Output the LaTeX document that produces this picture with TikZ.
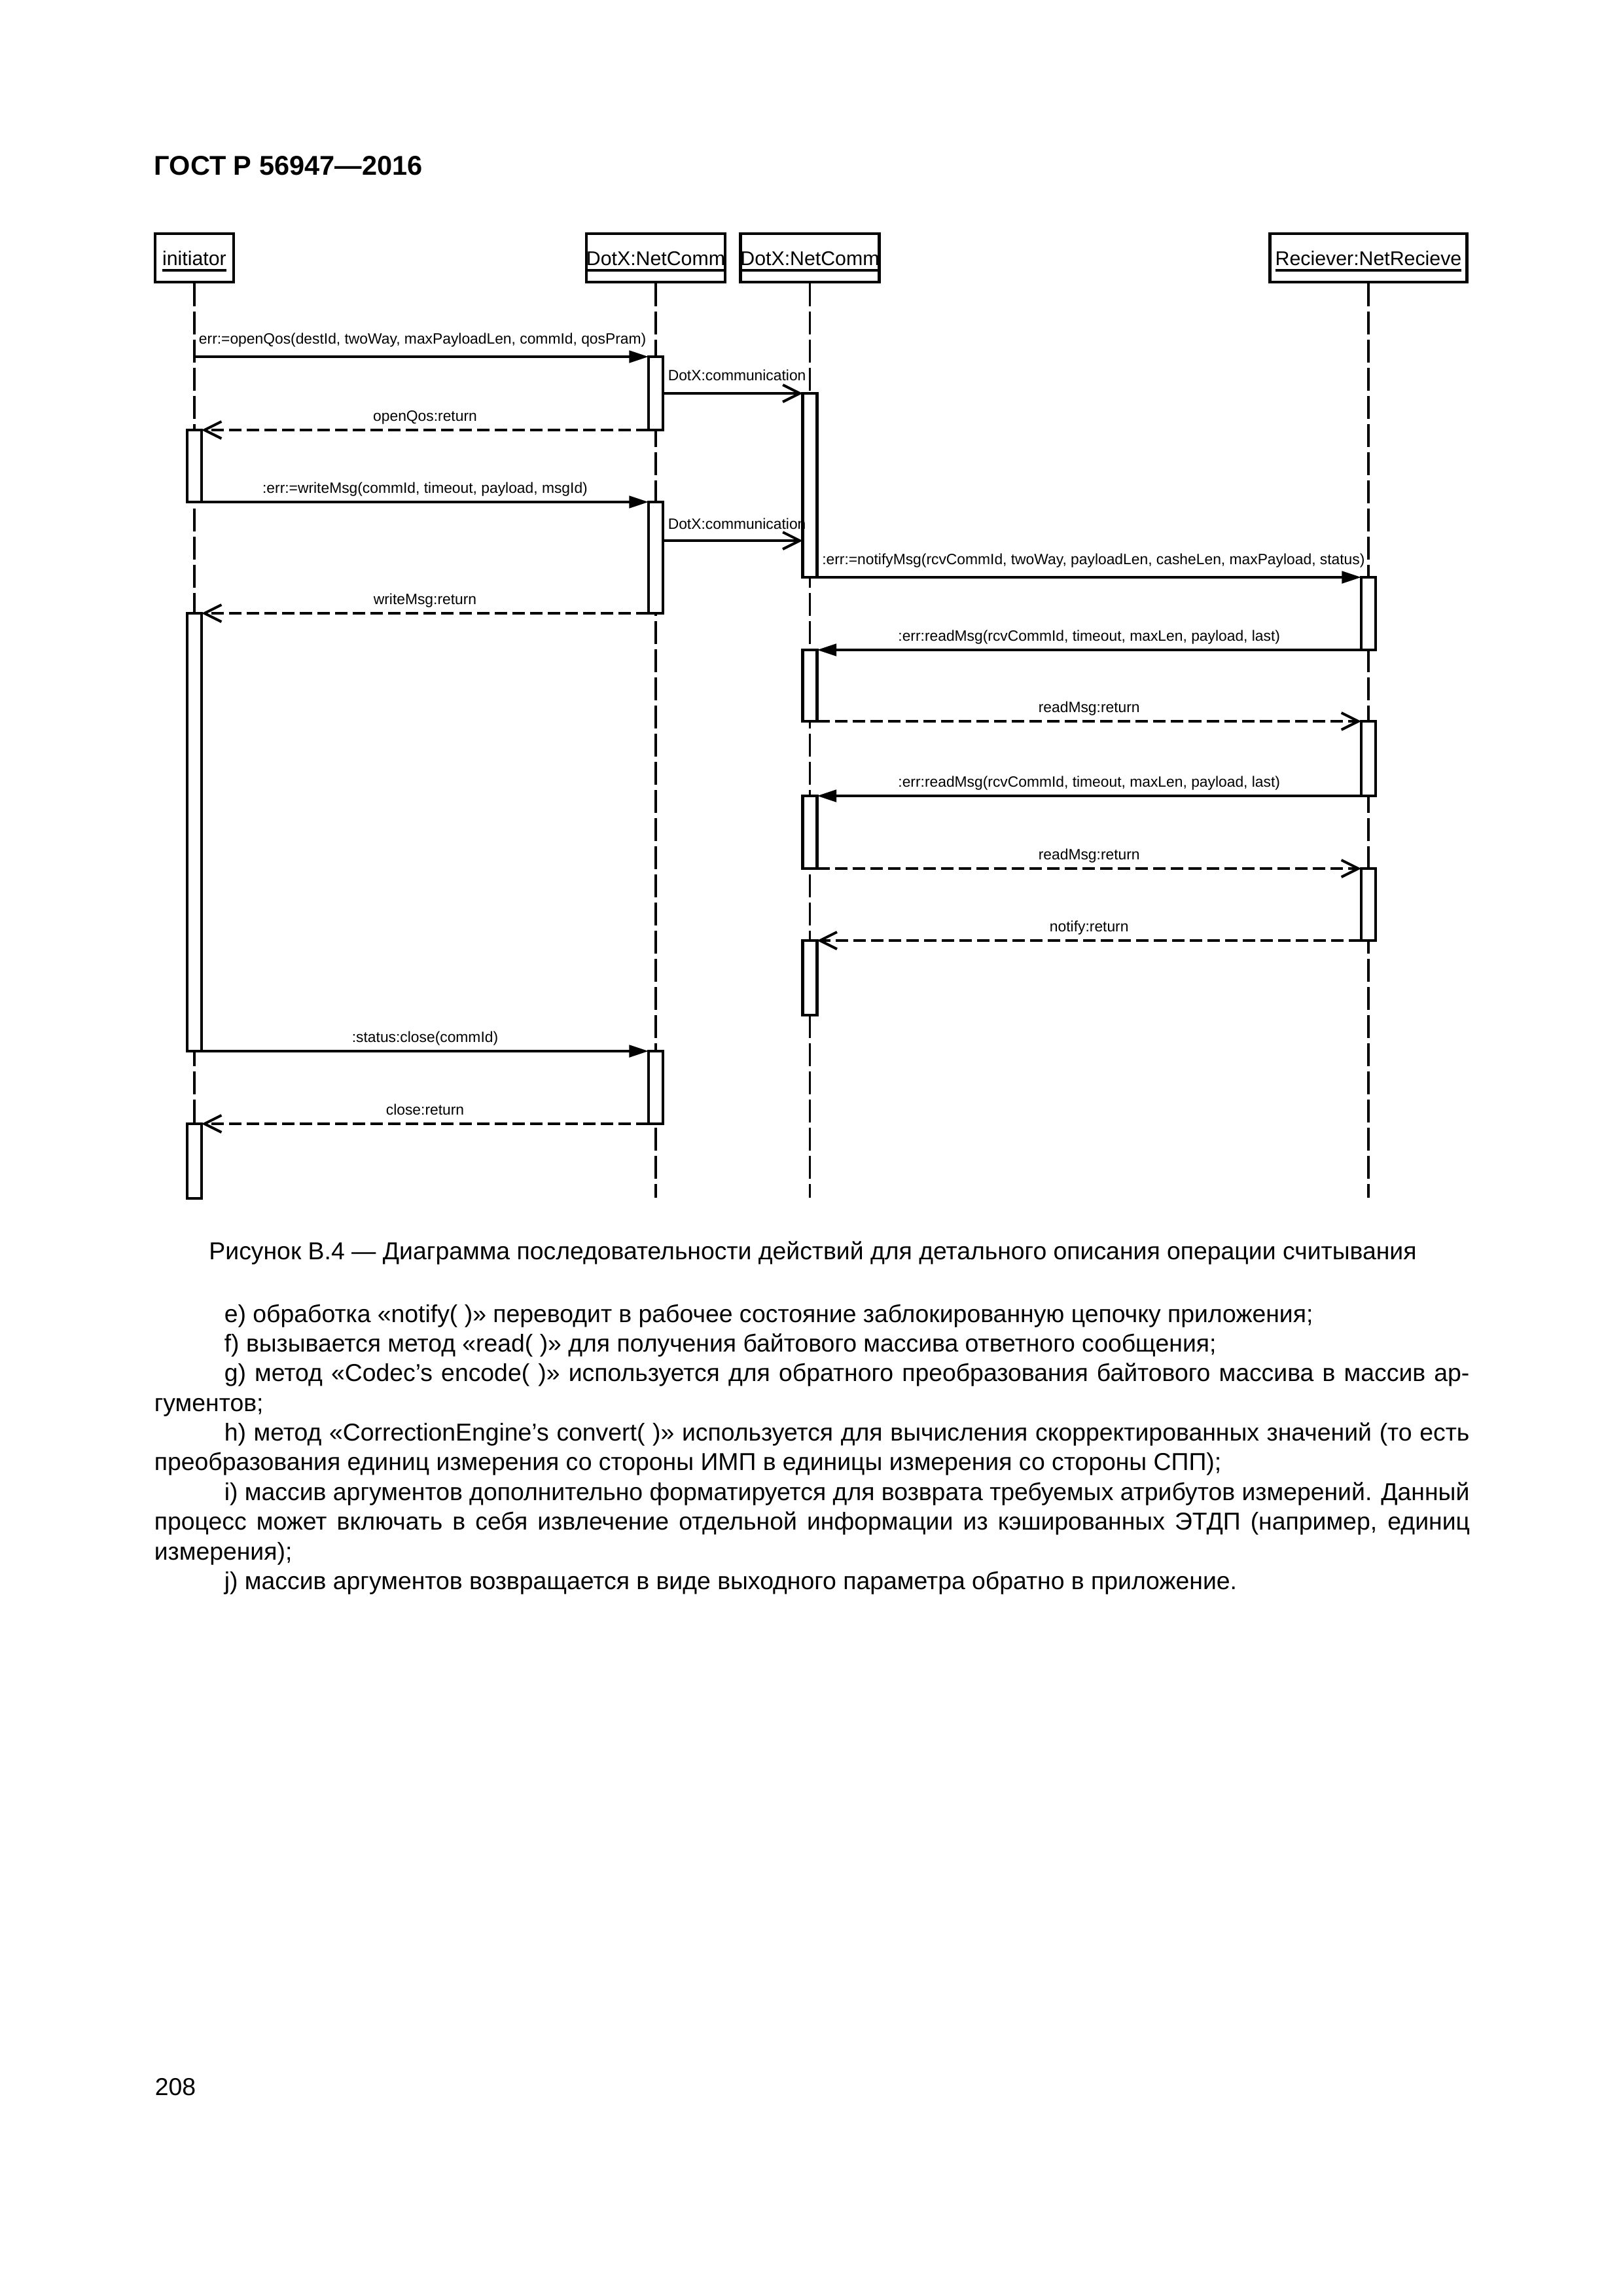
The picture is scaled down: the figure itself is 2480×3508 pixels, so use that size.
\documentclass[tikz,border=0pt]{standalone}
\usepackage{fontspec}
\setmainfont{Liberation Sans}
\usetikzlibrary{arrows.meta}
\newcommand{\pxu}{0.0846774mm}
\newsavebox{\ulsave}
\newcommand{\ulx}[1]{\sbox{\ulsave}{#1}\rlap{\rule[-2.3pt]{\wd\ulsave}{0.75pt}}\usebox{\ulsave}}
\newcommand{\actbar}[4]{\node[act, minimum height={(#4-#3)*0.0846774mm}] (#1) at (#2,{(#3+#4)/2}) {};}
\begin{document}
\begin{tikzpicture}[x=0.0846774mm, y=-0.0846774mm,
  obj/.style={draw, line width=1.15pt, fill=white, inner sep=0pt, text height=5.3pt, text depth=0pt, font=\fontsize{7.3pt}{8pt}\selectfont},
  life/.style={line width=0.78pt, dash pattern=on 2.96mm off 0.68mm},
  act/.style={draw, line width=1pt, fill=white, minimum width=22*0.0846774mm, inner sep=0pt, outer sep=0pt},
  call/.style={line width=0.95pt, -{Triangle[length=2.5mm,width=1.55mm]}},
  async/.style={line width=0.95pt, -{Straight Barb[length=2.2mm,width=2.2mm]}},
  ret/.style={line width=0.95pt, dash pattern=on 1.61mm off 0.68mm, -{Straight Barb[length=2.2mm,width=2.2mm]}},
  msg/.style={font=\fontsize{5.5pt}{6pt}\selectfont, inner sep=0pt},
  lbl/.style={msg, midway, anchor=base, yshift=3.2pt},
  lblw/.style={msg, pos=0, anchor=base west, xshift=1.4pt, yshift=4.6pt},
  body/.style={font=\fontsize{9pt}{10.9pt}\selectfont, inner sep=0pt, anchor=base west},
]
\fill[white] (0,0) rectangle (2480,3508);
\useasboundingbox (0,0) rectangle (2480,3508);

% header, caption, page number
\node[font=\fontsize{10pt}{12pt}\selectfont\bfseries, inner sep=0pt, anchor=base west] (hdr) at (235,267) {ГОСТ Р 56947—2016};
\node[body, anchor=base] (cap) at (1242,1924) {Рисунок B.4 — Диаграмма последовательности действий для детального описания операции считывания};
\node[body] (pnum) at (236,3201) {208};

% objects
\node[obj, minimum width=120*0.0846774mm, minimum height=74*0.0846774mm] (init) at (297,394) {\ulx{initiator}};
\node[obj, minimum width=210*0.0846774mm, minimum height=74*0.0846774mm] (ncA) at (1002,394) {\ulx{DotX:NetComm}};
\node[obj, minimum width=209*0.0846774mm, minimum height=74*0.0846774mm] (ncB) at (1237.5,394) {\ulx{DotX:NetComm}};
\node[obj, minimum width=301*0.0846774mm, minimum height=74*0.0846774mm] (rcv) at (2091,394) {\ulx{Reciever:NetRecieve}};

% lifelines
\coordinate (initEnd) at (297,1830);
\coordinate (ncAEnd) at (1002,1830);
\coordinate (ncBEnd) at (1237.5,1830);
\coordinate (rcvEnd) at (2091,1830);
\draw[life] (init.south) -- (initEnd);
\draw[life] (ncA.south) -- (ncAEnd);
\draw[life] (ncB.south) -- (ncBEnd);
\draw[life] (rcv.south) -- (rcvEnd);

% activation bars
\actbar{iA1}{297}{657}{767}
\actbar{iA2}{297}{937}{1606}
\actbar{iA3}{297}{1717}{1831}
\actbar{dA1}{1002}{545}{657}
\actbar{dA2}{1002}{767}{937}
\actbar{dA3}{1002}{1606}{1717}
\actbar{eA1}{1237.5}{601}{882}
\actbar{eA2}{1237.5}{993}{1102}
\actbar{eA3}{1237.5}{1216}{1327}
\actbar{eA4}{1237.5}{1437}{1551}
\actbar{rA1}{2091}{882}{993}
\actbar{rA2}{2091}{1102}{1216}
\actbar{rA3}{2091}{1327}{1437}

% messages
\draw[call] (init |- dA1.north) -- (dA1.north west)
  node[lblw, xshift=-0.2pt, yshift=0.2pt] (l1) {err:=openQos(destId, twoWay, maxPayloadLen, commId, qosPram)};
\draw[async] (dA1.east |- eA1.north) -- (eA1.north west)
  node[lblw] (l2) {DotX:communication};
\draw[ret] (dA1.south west) -- (iA1.north east)
  node[lbl] (l3) {openQos:return};
\draw[call] (iA1.south east) -- (dA2.north west)
  node[lbl] (l4) {:err:=writeMsg(commId, timeout, payload, msgId)};
\coordinate (m5) at (1237.5,826);
\draw[async] (dA2.east |- m5) -- (eA1.west |- m5)
  node[lblw, yshift=-0.3pt] (l5) {DotX:communication};
\draw[call] (eA1.south east) -- (rA1.north west)
  node[lblw] (l6) {:err:=notifyMsg(rcvCommId, twoWay, payloadLen, casheLen, maxPayload, status)};
\draw[ret] (dA2.south west) -- (iA2.north east)
  node[lbl] (l7) {writeMsg:return};
\draw[call] (rA1.south west) -- (eA2.north east)
  node[lbl] (l8) {:err:readMsg(rcvCommId, timeout, maxLen, payload, last)};
\draw[ret] (eA2.south east) -- (rA2.north west)
  node[lbl] (l9) {readMsg:return};
\draw[call] (rA2.south west) -- (eA3.north east)
  node[lbl] (l10) {:err:readMsg(rcvCommId, timeout, maxLen, payload, last)};
\draw[ret] (eA3.south east) -- (rA3.north west)
  node[lbl] (l11) {readMsg:return};
\draw[ret] (rA3.south west) -- (eA4.north east)
  node[lbl] (l12) {notify:return};
\draw[call] (iA2.south east) -- (dA3.north west)
  node[lbl] (l13) {:status:close(commId)};
\draw[ret] (dA3.south west) -- (iA3.north east)
  node[lbl] (l14) {close:return};

% body text
\node[body] (t1) at (342,2020) {e) обработка «notify(~)» переводит в рабочее состояние заблокированную цепочку приложения;};
\node[body] (t2) at (342,2065) {f) вызывается метод «read(~)» для получения байтового массива ответного сообщения;};
\node[body] (t3) at (342,2110) {\makebox[161.1mm][s]{g) метод «Codec’s encode(~)» используется для обратного преобразования байтового массива в массив ар-}};
\node[body] (t4) at (235,2156) {гументов;};
\node[body] (t5) at (342,2201) {\makebox[161.1mm][s]{h) метод «CorrectionEngine’s convert(~)» используется для вычисления скорректированных значений (то есть}};
\node[body] (t6) at (235,2246) {преобразования единиц измерения со стороны ИМП в единицы измерения со стороны СПП);};
\node[body] (t7) at (342,2292) {\makebox[161.1mm][s]{i) массив аргументов дополнительно форматируется для возврата требуемых атрибутов измерений. Данный}};
\node[body] (t8) at (235,2337) {\makebox[170.2mm][s]{процесс может включать в себя извлечение отдельной информации из кэшированных ЭТДП (например, единиц}};
\node[body] (t9) at (235,2383) {измерения);};
\node[body] (t10) at (342,2428) {j) массив аргументов возвращается в виде выходного параметра обратно в приложение.};
\end{tikzpicture}
\end{document}
